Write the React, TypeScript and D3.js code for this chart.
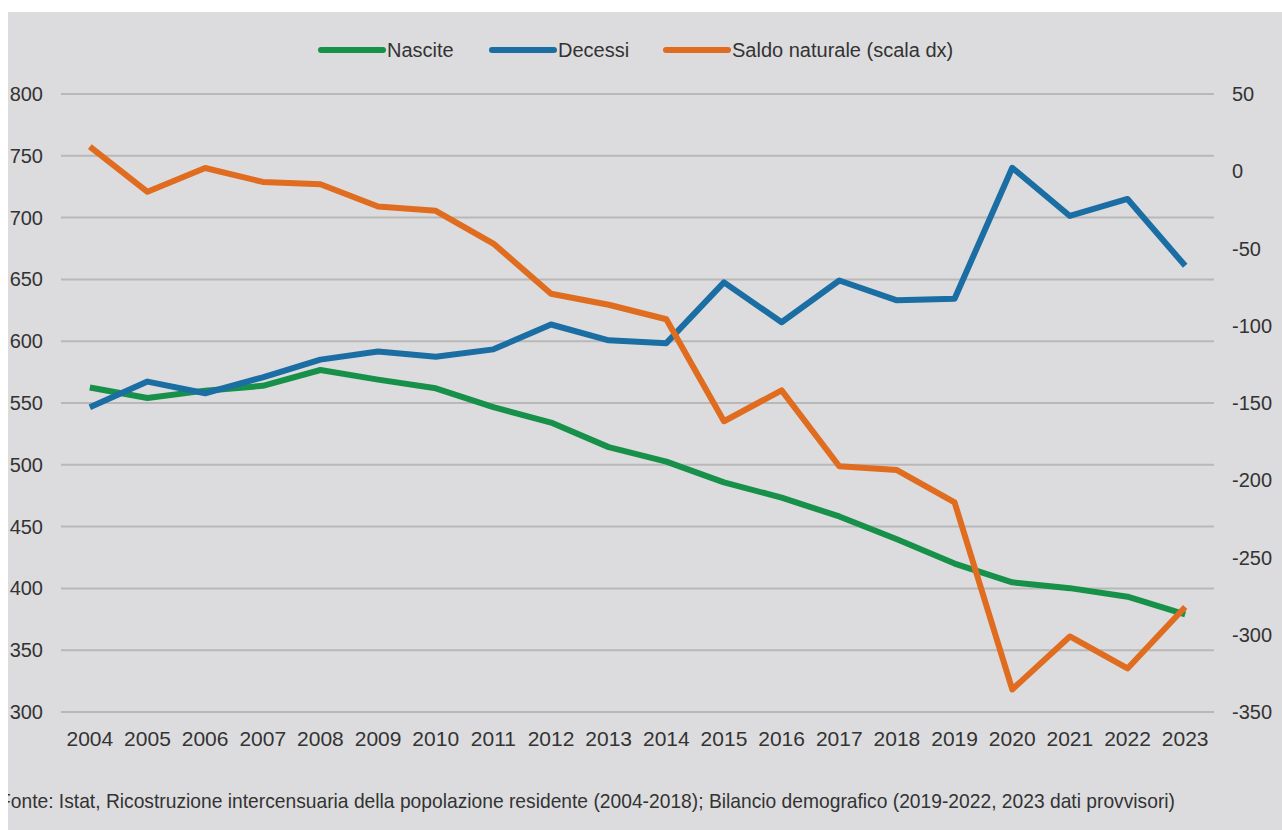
import React from "react";
import * as d3 from "d3";

const years = ["2004","2005","2006","2007","2008","2009","2010","2011","2012","2013","2014","2015","2016","2017","2018","2019","2020","2021","2022","2023"];
const nascite = [562.6,554.0,560.0,563.9,576.7,568.9,561.9,546.6,534.2,514.3,502.6,485.8,473.4,458.2,439.7,420.1,404.9,400.2,393.3,379.0];
const decessi = [546.6,567.3,557.9,570.8,585.1,591.7,587.5,593.4,613.5,600.7,598.4,647.6,615.3,649.1,633.1,634.4,740.3,701.3,715.1,661.0];
const saldo = [16.0,-13.3,2.1,-6.9,-8.4,-22.8,-25.6,-46.8,-79.3,-86.4,-95.8,-161.8,-141.8,-190.9,-193.4,-214.3,-335.4,-301.1,-321.8,-282.0];
const leftTicks = [300,350,400,450,500,550,600,650,700,750,800];
const rightTicks = [50,0,-50,-100,-150,-200,-250,-300,-350];
const legendItems = [
  { label: "Nascite", color: "#17914a" },
  { label: "Decessi", color: "#1a6ea3" },
  { label: "Saldo naturale (scala dx)", color: "#e06c1f" },
];
const source = "Fonte: Istat, Ricostruzione intercensuaria della popolazione residente (2004-2018); Bilancio demografico (2019-2022, 2023 dati provvisori)";

export default function App() {
  const W = 1282, H = 830;
  const x = d3.scaleBand<string>().domain(years).range([61, 1214]).padding(0);
  const cx = (y: string) => (x(y) as number) + x.bandwidth() / 2;
  const yL = d3.scaleLinear().domain([300, 800]).range([712, 94]);
  const yR = d3.scaleLinear().domain([-350, 50]).range([712, 94]);
  const lineL = d3.line<number>().x((_, i) => cx(years[i])).y((d) => yL(d));
  const lineR = d3.line<number>().x((_, i) => cx(years[i])).y((d) => yR(d));
  const font = "'Liberation Sans', Arial, sans-serif";
  const txt = "#333";
  const legendX = [321, 492, 666];

  return (
    <svg width={W} height={H} style={{ position: "absolute", left: 0, top: 0, display: "block" }} fontFamily={font}>
      <defs>
        <clipPath id="bgclip"><rect x={8} y={12} width={W - 8} height={H - 12} /></clipPath>
      </defs>
      <rect x={0} y={0} width={W} height={H} fill="#ffffff" />
      <rect x={8} y={12} width={W - 8} height={H - 12} fill="#dcdcde" />
      {leftTicks.map((t) => (
        <g key={"l" + t}>
          <line x1={61} x2={1214} y1={yL(t)} y2={yL(t)} stroke="#b8b8b8" strokeWidth={2} />
          <text x={43} y={yL(t)} dy="0.35em" textAnchor="end" fontSize={20} fill={txt}>{t}</text>
        </g>
      ))}
      {rightTicks.map((t) => (
        <text key={"r" + t} x={1232} y={yR(t)} dy="0.35em" textAnchor="start" fontSize={20} fill={txt}>{t}</text>
      ))}
      {years.map((y) => (
        <text key={y} x={cx(y)} y={746} textAnchor="middle" fontSize={21} fill={txt}>{y}</text>
      ))}
      <path d={lineL(nascite) as string} fill="none" stroke={legendItems[0].color} strokeWidth={6} strokeLinejoin="round" />
      <path d={lineL(decessi) as string} fill="none" stroke={legendItems[1].color} strokeWidth={6} strokeLinejoin="round" />
      <path d={lineR(saldo) as string} fill="none" stroke={legendItems[2].color} strokeWidth={6} strokeLinejoin="round" />
      {legendItems.map((it, i) => (
        <g key={it.label}>
          <line x1={legendX[i]} x2={legendX[i] + 62} y1={50} y2={50} stroke={it.color} strokeWidth={6} strokeLinecap="round" />
          <text x={legendX[i] + 66} y={50} dy="0.35em" fontSize={20} fill={txt}>{it.label}</text>
        </g>
      ))}
      <g clipPath="url(#bgclip)">
        <text x={-1} y={808} fontSize={21} fill={txt} textLength={1176} lengthAdjust="spacingAndGlyphs"
          fontFamily="'Liberation Sans Narrow', 'Liberation Sans', Arial, sans-serif">{source}</text>
      </g>
    </svg>
  );
}
